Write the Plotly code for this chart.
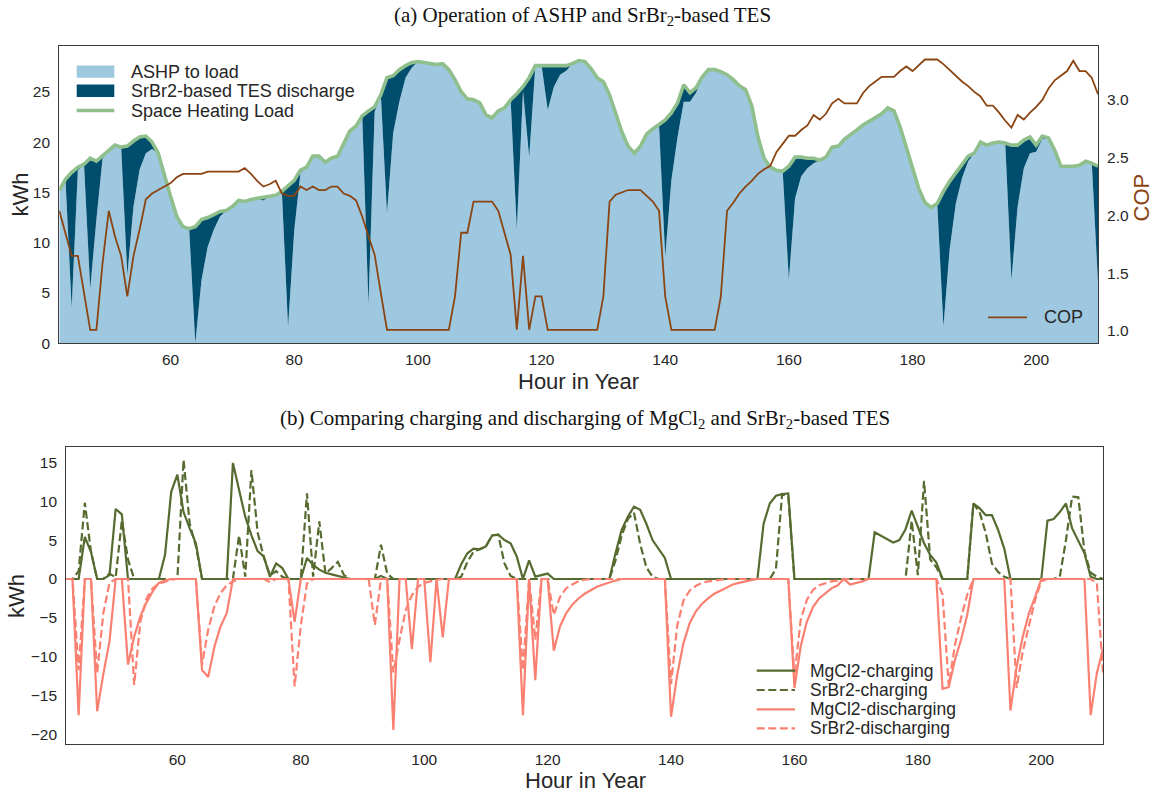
import plotly.graph_objects as go

# ---------------- data ----------------
hours = list(range(42, 211))

space_heating_load = [
    15.2, 16.3, 17.0, 17.5, 17.8, 18.4, 18.1, 18.6,
    19.2, 19.7, 19.5, 19.6, 20.1, 20.5, 20.6, 20.0, 18.9, 16.9,
    14.6, 12.6, 11.6, 11.4, 11.6, 12.3, 12.5, 12.8, 13.1, 13.2,
    13.6, 14.2, 14.1, 14.3, 14.4, 14.5, 14.6, 14.7, 15.1, 15.6,
    16.2, 17.2, 17.5, 18.6, 18.6, 18.0, 18.4, 18.6, 19.9, 21.1,
    21.6, 22.6, 23.1, 23.5, 24.7, 26.4, 26.6, 27.2, 27.6, 27.9,
    28.0, 27.9, 27.8, 27.7, 27.8, 27.2, 26.2, 25.0, 24.3, 24.2,
    23.9, 22.7, 22.4, 23.1, 23.4, 24.2, 24.8, 25.5, 26.4, 27.6,
    27.6, 27.6, 27.6, 27.6, 27.6, 27.8, 28.1, 28.0, 27.3, 26.4,
    26.0, 24.7, 22.7, 21.0, 19.6, 18.9, 19.6, 20.8, 21.3, 21.7,
    22.2, 22.9, 23.9, 25.7, 24.9, 25.4, 26.5, 27.2, 27.2, 27.0,
    26.7, 26.2, 25.6, 25.2, 23.6, 20.5, 18.4, 17.5, 17.2, 17.1,
    17.6, 18.5, 18.5, 18.4, 18.4, 18.2, 18.5, 19.5, 19.6, 20.3,
    20.7, 21.2, 21.7, 22.1, 22.4, 22.8, 23.4, 23.1, 21.5, 19.5,
    17.2, 15.4, 14.0, 13.5, 13.9, 15.1, 16.1, 16.9, 17.7, 18.6,
    18.9, 20.0, 19.7, 19.9, 20.0, 19.9, 19.7, 19.7, 20.2, 20.5,
    19.7, 20.6, 20.4, 19.2, 17.6, 17.6, 17.6, 17.7, 18.1, 17.9,
    17.6,
]

srbr2_tes_discharge = [
    0, 0, 13.5, 0.3, 0, 13.0, 5.8, 0.2,
    0, 0, 0, 12.8, 6.5, 3.2, 1.7, 0.7, 0, 0,
    0, 0, 0, 0, 11.6, 6.0, 2.9, 1.5, 0.5, 0,
    0, 0, 0, 0, 0, 0.3, 0, 0, 0, 14.0,
    5.0, 0.3, 0, 0, 0, 0, 0, 0, 0, 0,
    0, 0, 19.3, 0.5, 0, 13.5, 5.7, 3.2, 1.2, 0.5,
    0, 0, 0, 0, 0, 0, 0, 0, 0, 0,
    0, 0, 0, 0, 0, 0, 13.5, 0.4, 7.9, 0,
    0, 4.4, 2.1, 0.9, 0.5, 0, 0, 0, 0, 0,
    0, 0, 0, 0, 0, 0, 0, 0, 0, 0,
    13.6, 6.7, 3.4, 1.7, 0.9, 0.5, 0, 0, 0, 0,
    0, 0, 0, 0, 0, 0, 0, 0, 0, 0,
    11.3, 4.1, 1.9, 1.0, 0.5, 0, 0, 0, 0, 0,
    0, 0, 0, 0, 0, 0, 0, 0, 0, 0,
    0, 0, 0, 0, 0, 13.45, 6.8, 3.0, 1.3, 0.5,
    0, 0, 0, 0, 0, 0, 13.4, 6.1, 2.8, 1.6,
    0.65, 0.3, 0, 0, 0, 0, 0, 0, 0, 0,
    11.6,
]

cop = [
    2.04, 1.84, 1.65, 1.65, 1.32, 1.01, 1.01, 1.59,
    2.04, 1.82, 1.65, 1.30, 1.65, 1.88, 2.14, 2.19, 2.22, 2.25,
    2.28, 2.33, 2.36, 2.36, 2.36, 2.36, 2.38, 2.38, 2.38, 2.38,
    2.38, 2.38, 2.41, 2.36, 2.30, 2.25, 2.27, 2.30, 2.19, 2.17,
    2.17, 2.25, 2.22, 2.25, 2.22, 2.22, 2.25, 2.25, 2.19, 2.17,
    2.13, 1.99, 1.82, 1.66, 1.33, 1.01, 1.01, 1.01, 1.01, 1.01,
    1.01, 1.01, 1.01, 1.01, 1.01, 1.01, 1.30, 1.85, 1.85, 2.12,
    2.12, 2.12, 2.12, 2.04, 1.85, 1.66, 1.01, 1.65, 1.01, 1.30,
    1.30, 1.01, 1.01, 1.01, 1.01, 1.01, 1.01, 1.01, 1.01, 1.01,
    1.30, 2.12, 2.18, 2.20, 2.22, 2.22, 2.22, 2.17, 2.12, 2.04,
    1.30, 1.01, 1.01, 1.01, 1.01, 1.01, 1.01, 1.01, 1.01, 1.30,
    2.04, 2.11, 2.19, 2.25, 2.30, 2.36, 2.40, 2.43, 2.55, 2.62,
    2.69, 2.69, 2.74, 2.78, 2.87, 2.83, 2.88, 2.97, 3.01, 2.97,
    2.97, 2.97, 3.06, 3.12, 3.16, 3.20, 3.20, 3.20, 3.25, 3.29,
    3.25, 3.30, 3.35, 3.35, 3.35, 3.31, 3.26, 3.21, 3.16, 3.12,
    3.07, 3.03, 2.95, 2.95, 2.89, 2.82, 2.76, 2.87, 2.83, 2.89,
    2.94, 3.00, 3.10, 3.17, 3.21, 3.25, 3.34, 3.25, 3.25, 3.19,
    3.05,
]

mgcl2_charging = [
    0, 0, 0, 5.4, 3.5, 0, 0, 0.5,
    9.0, 8.3, 0, 0, 0, 0, 0, 0, 3.1, 11.2,
    13.4, 8.6, 6.5, 4.6, 0, 0, 0, 0, 0, 14.9,
    11.4, 8.0, 5.6, 3.6, 2.9, 0.3, 2.0, 1.4, 0, 0,
    0, 2.7, 1.8, 1.2, 0.8, 0.6, 0.4, 0.2, 0, 0,
    0, 0, 0, 0.4, 0, 0, 0, 0, 0, 0,
    0, 0, 0, 0, 0, 0, 1.9, 3.3, 3.9, 3.8,
    4.2, 5.6, 5.7, 5.0, 4.6, 2.9, 0, 2.4, 0.3, 0.5,
    0.7, 0, 0, 0, 0, 0, 0, 0, 0, 0,
    0, 3.3, 6.3, 8.0, 9.3, 8.9, 7.1, 5.0, 3.9, 2.7,
    0, 0, 0, 0, 0, 0, 0, 0, 0, 0,
    0, 0, 0, 0, 0, 7.1, 9.7, 10.7, 10.9, 11.0,
    0, 0, 0, 0, 0, 0, 0, 0, 0, 0,
    0, 0, 0, 6.0, 5.6, 5.1, 4.7, 5.0, 6.4, 8.8,
    6.6, 4.6, 3.1, 2.1, 0, 0, 0, 0, 0, 9.7,
    9.1, 8.2, 8.2, 6.3, 3.9, 0, 0, 0, 0, 0,
    0, 7.5, 7.7, 8.6, 9.7, 6.5, 5.0, 3.3, 0.3, 0,
    0,
]

srbr2_charging = [
    0, 0, 1.0, 9.8, 3.5, 0, 0, 0.7,
    0.2, 7.5, 2.5, 0, 0, 0, 0, 0, 0, 0,
    0, 15.3, 7.1, 4.2, 0, 0, 0, 0, 0, 0,
    5.6, 0.3, 14.0, 6.0, 2.8, 0.5, 1.0, 0.3, 0, 0,
    0, 11.0, 0.3, 7.4, 0.7, 1.4, 2.2, 0.5, 0, 0,
    0, 0, 0, 4.4, 0.7, 0, 0, 0, 0, 0,
    0, 0, 0, 0, 0, 0, 0.3, 2.2, 3.5, 3.8,
    4.2, 5.6, 5.7, 2.0, 0.4, 0, 0, 0, 0, 0,
    0, 0, 0, 0, 0, 0, 0, 0, 0, 0,
    0, 2.4, 5.6, 7.7, 8.5, 4.5, 1.5, 0.3, 0, 0,
    0, 0, 0, 0, 0, 0, 0, 0, 0, 0,
    0, 0, 0, 0, 0, 0, 0, 1.3, 10.9, 10.6,
    0, 0, 0, 0, 0, 0, 0, 0, 0, 0,
    0, 0, 0, 0, 0, 0, 0, 0, 0, 7.5,
    0.5, 12.6, 2.5, 1.5, 0, 0, 0, 0, 0, 9.7,
    8.6, 5.9, 2.0, 0.9, 0.3, 0, 0, 0, 0, 0,
    0, 0, 0, 0.3, 5.0, 10.6, 10.5, 3.5, 0.8, 0.3,
    0,
]

mgcl2_discharging = [
    0, 0, -17.5, 0, 0, -17.0, -12.2, -8.0,
    0, 0, -11.0, -7.4, -4.8, -3.0, -1.6, -0.5, -0.2, 0,
    0, 0, 0, 0, -11.7, -12.6, -8.7, -6.1, -4.4, 0,
    0, 0, 0, 0, 0, 0, 0, 0, 0, -5.5,
    0, 0, 0, 0, 0, 0, 0, 0, 0, 0,
    0, 0, 0, 0, 0, -19.4, 0, 0, -9.0, 0,
    0, -10.7, 0, -7.5, 0, 0, 0, 0, 0, 0,
    0, 0, 0, 0, 0, 0, -17.5, 0, -13.0, 0,
    0, -9.2, -6.1, -4.4, -3.3, -2.5, -1.9, -1.4, -1.0, -0.7,
    -0.4, -0.2, 0, 0, 0, 0, 0, 0, 0, 0,
    -17.7, -12.3, -8.3, -5.7, -4.2, -3.2, -2.5, -1.9, -1.5, -1.1,
    -0.7, -0.5, -0.3, -0.15, 0, 0, 0, 0, 0, 0,
    -14.0, -8.7, -5.5, -3.6, -2.5, -1.8, -1.2, -0.8, 0, -0.7,
    -0.5, -0.3, 0, 0, 0, 0, 0, 0, 0, 0,
    0, 0, 0, 0, -14.1, -13.9, -10.4, -7.8, -4.6, 0,
    0, 0, 0, 0, 0, -16.9, -11.3, -7.4, -4.4, -2.3,
    0, 0, 0, 0, 0, 0, 0, 0, -17.5, -12.1,
    -9.0,
]

srbr2_discharging = [
    0, 0, -11.7, 0, 0, -12.1, -4.4, -0.5,
    0, 0, 0, -13.6, -5.5, -2.5, -1.2, -0.6, -0.3, -0.1,
    0, 0, 0, 0, -11.0, -6.5, -3.5, -1.8, -0.8, -0.3,
    0, 0, 0, 0, 0, -0.4, 0, 0, 0, -13.8,
    -6.0, -0.6, 0, 0, 0, 0, 0, 0, 0, 0,
    0, 0, -5.9, 0, 0, -12.0, -7.8, -4.0, -2.1, -1.0,
    -0.5, -0.3, -0.1, 0, 0, 0, 0, 0, 0, 0,
    0, 0, 0, 0, 0, 0, -11.7, 0, -7.8, 0,
    0, -4.6, -2.3, -1.2, -0.7, -0.3, -0.1, 0, 0, 0,
    0, 0, 0, 0, 0, 0, 0, 0, 0, 0,
    -13.5, -6.0, -2.8, -1.5, -0.9, -0.5, -0.3, -0.2, -0.1, 0,
    0, 0, 0, 0, 0, 0, 0, 0, 0, 0,
    -12.5, -5.3, -2.7, -1.4, -0.8, -0.5, -0.3, -0.2, 0, 0,
    0, 0, 0, 0, 0, 0, 0, 0, 0, 0,
    0, 0, 0, 0, -2.0, -13.7, -8.5, -5.0, -2.0, 0,
    0, 0, 0, 0, 0, 0, -14.0, -9.3, -6.0, -2.7,
    -0.3, 0, 0, 0, 0, 0, 0, 0, 0, -0.5,
    -12.0,
]

x_ticks = [60, 80, 100, 120, 140, 160, 180, 200]
top_kwh_ticks = [0, 5, 10, 15, 20, 25]
cop_ticks = [1.0, 1.5, 2.0, 2.5, 3.0]
bottom_kwh_ticks = [-20, -15, -10, -5, 0, 5, 10, 15]

for name, arr in [("load", space_heating_load), ("tes", srbr2_tes_discharge), ("cop", cop),
                  ("mgc", mgcl2_charging), ("src", srbr2_charging),
                  ("mgd", mgcl2_discharging), ("srd", srbr2_discharging)]:
    assert len(arr) == len(hours), (name, len(arr))

ashp_to_load = [round(l - t, 3) for l, t in zip(space_heating_load, srbr2_tes_discharge)]
ashp_plus_tes = [round(a + t, 3) for a, t in zip(ashp_to_load, srbr2_tes_discharge)]

# ---------------- style ----------------
W, H = 1156, 793
SANS = "Liberation Sans, Arial, sans-serif"
SERIF = "Liberation Serif, Times New Roman, serif"
LIGHT = "#9ec8e0"
DARK = "#004d6e"
GREEN = "#8fbf8c"
BROWN = "#8b4513"
OLIVE = "#556b2f"
SALMON = "#fa8072"
TXT = "#262626"
FRAME = "#3a3a3a"


def fx(p):
    return p / W


def fy(p):
    return 1 - p / H


fig = go.Figure()

# top panel
fig.add_trace(go.Scatter(x=hours, y=ashp_to_load, mode="lines", line=dict(width=0, color=LIGHT),
                         fill="tozeroy", fillcolor=LIGHT, name="ASHP to load",
                         xaxis="x", yaxis="y", showlegend=False, hoverinfo="skip"))
fig.add_trace(go.Scatter(x=hours, y=ashp_plus_tes, mode="lines", line=dict(width=0, color=DARK),
                         fill="tonexty", fillcolor=DARK, name="SrBr2-based TES discharge",
                         xaxis="x", yaxis="y", showlegend=False, hoverinfo="skip"))
fig.add_trace(go.Scatter(x=hours, y=space_heating_load, mode="lines",
                         line=dict(color=GREEN, width=3.6), name="Space Heating Load",
                         xaxis="x", yaxis="y", showlegend=False))
fig.add_trace(go.Scatter(x=hours, y=cop, mode="lines", line=dict(color=BROWN, width=1.8),
                         name="COP", xaxis="x", yaxis="y2", showlegend=False))

# bottom panel
DASH = "8px,3.6px"
fig.add_trace(go.Scatter(x=hours, y=mgcl2_charging, mode="lines", line=dict(color=OLIVE, width=2.2),
                         name="MgCl2-charging", xaxis="x2", yaxis="y3", showlegend=False))
fig.add_trace(go.Scatter(x=hours, y=srbr2_charging, mode="lines",
                         line=dict(color=OLIVE, width=2.2, dash=DASH),
                         name="SrBr2-charging", xaxis="x2", yaxis="y3", showlegend=False))
fig.add_trace(go.Scatter(x=hours, y=mgcl2_discharging, mode="lines", line=dict(color=SALMON, width=2.2),
                         name="MgCl2-discharging", xaxis="x2", yaxis="y3", showlegend=False))
fig.add_trace(go.Scatter(x=hours, y=srbr2_discharging, mode="lines",
                         line=dict(color=SALMON, width=2.2, dash=DASH),
                         name="SrBr2-discharging", xaxis="x2", yaxis="y3", showlegend=False))

TICKFONT = dict(family=SANS, size=15.5, color=TXT)
axis_common = dict(showgrid=False, zeroline=False, showline=True, linecolor=FRAME, linewidth=1.3,
                   mirror=True, ticks="outside", tickcolor="rgba(0,0,0,0)",
                   tickfont=TICKFONT, automargin=False)

fig.update_layout(
    width=W, height=H, autosize=False,
    margin=dict(l=0, r=0, t=0, b=0),
    paper_bgcolor="white", plot_bgcolor="white",
    showlegend=False,
    font=dict(family=SANS, color=TXT),
    xaxis=dict(domain=[fx(59.3), fx(1098)], range=[42, 210], tickvals=x_ticks, anchor="y", ticklen=2,
               **axis_common),
    yaxis=dict(domain=[fy(343.3), fy(46)], range=[0, 29.55], tickvals=top_kwh_ticks, anchor="x", ticklen=5,
               **axis_common),
    yaxis2=dict(overlaying="y", side="right", anchor="x", range=[0.893, 3.467], tickvals=cop_ticks,
                tickformat=".1f", showgrid=False, zeroline=False, showline=False, ticks="outside",
                ticklen=5, tickcolor="rgba(0,0,0,0)", tickfont=TICKFONT, automargin=False),
    xaxis2=dict(domain=[fx(66.3), fx(1103)], range=[42, 210], tickvals=x_ticks, anchor="y3", ticklen=1,
                **axis_common),
    yaxis3=dict(domain=[fy(744), fy(446.7)], range=[-21.2, 17.0], tickvals=bottom_kwh_ticks, anchor="x2",
                ticklen=5, **axis_common),
)

annotations = []
shapes = []


def text(t, x, y, size, color=TXT, family=SANS, angle=0, xanchor="center"):
    annotations.append(dict(text=t, x=fx(x), y=fy(y), xref="paper", yref="paper", showarrow=False,
                            xanchor=xanchor, yanchor="middle", textangle=angle,
                            font=dict(family=family, size=size, color=color)))


# titles
text("(a) Operation of ASHP and SrBr<sub>2</sub>-based TES", 582, 16, 21, color="#111111", family=SERIF)
text("(b) Comparing charging and discharging of MgCl<sub>2</sub> and SrBr<sub>2</sub>-based TES", 585, 419, 21,
     color="#111111", family=SERIF)

# axis titles
text("kWh", 19.5, 195, 22, angle=-90)
text("Hour in Year", 578.7, 381, 22)
text("COP", 1141, 197.5, 22, color=BROWN, angle=-90)
text("kWh", 16, 596, 22, angle=-90)
text("Hour in Year", 585, 780, 22)

# legend (top-left)
shapes.append(dict(type="rect", xref="paper", yref="paper", x0=fx(76.7), x1=fx(114.3), y0=fy(77.8), y1=fy(65.4),
                   fillcolor=LIGHT, line=dict(width=0)))
shapes.append(dict(type="rect", xref="paper", yref="paper", x0=fx(76.7), x1=fx(114.3), y0=fy(97.0), y1=fy(84.6),
                   fillcolor=DARK, line=dict(width=0)))
shapes.append(dict(type="line", xref="paper", yref="paper", x0=fx(76.7), x1=fx(114.3), y0=fy(110.5), y1=fy(110.5),
                   line=dict(color=GREEN, width=3.6)))
text("ASHP to load", 129, 71.6, 18, xanchor="left")
text("SrBr2-based TES discharge", 129, 90.8, 18, xanchor="left")
text("Space Heating Load", 129, 110.8, 18, xanchor="left")

# COP legend
shapes.append(dict(type="line", xref="paper", yref="paper", x0=fx(988), x1=fx(1027), y0=fy(317.3), y1=fy(317.3),
                   line=dict(color=BROWN, width=1.8)))
text("COP", 1041.7, 317.3, 18, xanchor="left")

# bottom legend
rows = [(670.7, OLIVE, "solid", "MgCl2-charging"), (690.0, OLIVE, DASH, "SrBr2-charging"),
        (709.3, SALMON, "solid", "MgCl2-discharging"), (728.3, SALMON, DASH, "SrBr2-discharging")]
for yy, col, dsh, lab in rows:
    shapes.append(dict(type="line", xref="paper", yref="paper", x0=fx(756.7), x1=fx(795), y0=fy(yy), y1=fy(yy),
                       line=dict(color=col, width=2.2, dash=dsh)))
    text(lab, 808, yy, 17.5, xanchor="left")

fig.update_layout(annotations=annotations, shapes=shapes)

fig.write_html("out.html", config={"displayModeBar": False},
               post_script="document.body.style.margin='0';document.body.style.overflow='hidden';")
